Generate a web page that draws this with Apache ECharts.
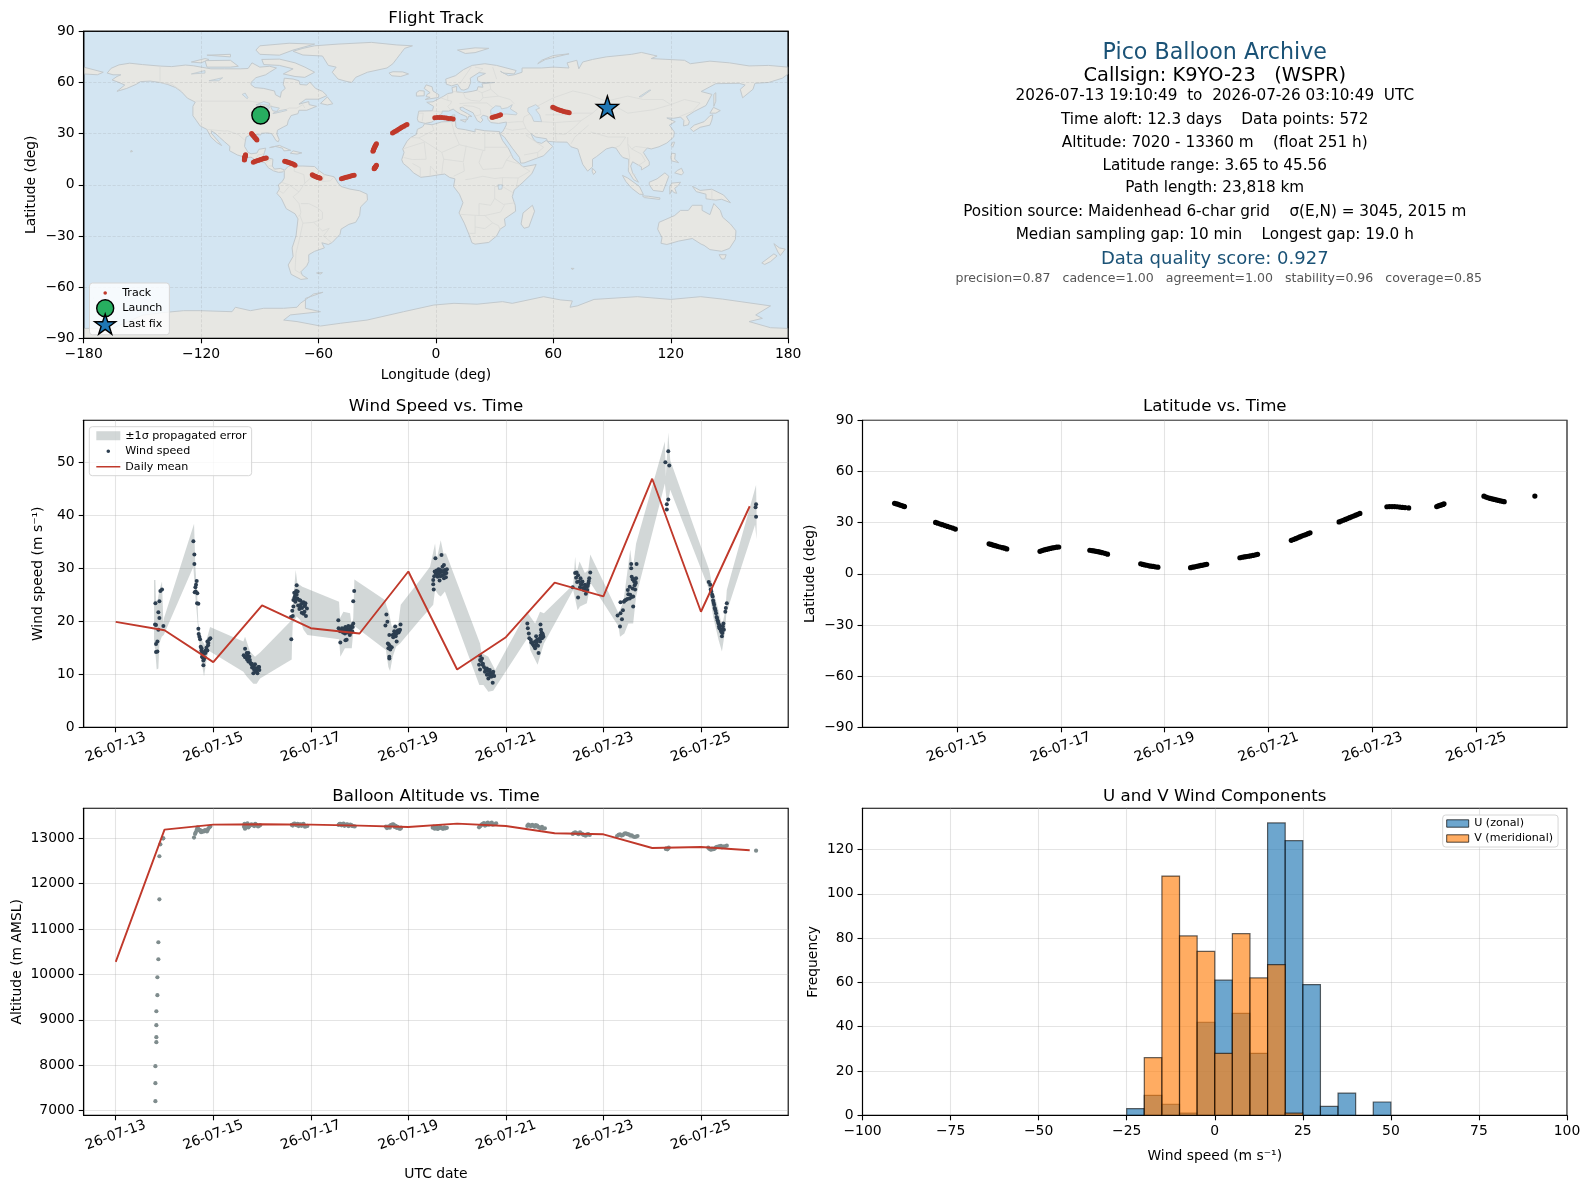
<!DOCTYPE html>
<html><head><meta charset="utf-8"><title>Pico Balloon Archive</title>
<script src="https://cdn.jsdelivr.net/npm/echarts@6/dist/echarts.min.js"></script>
<style>html,body{margin:0;padding:0;background:#fff}#main{width:1590px;height:1189px}</style></head>
<body><div id="main"></div>
<script>
// ---------- tick labels ----------
const dateTicks=[0,2,4,6,8,10,12];
const dateLabels=['26-07-13','26-07-15','26-07-17','26-07-19','26-07-21','26-07-23','26-07-25'];
const latDateTicks=[2,4,6,8,10,12];
const windTicks=[0,10,20,30,40,50];
const altTicks=[7000,8000,9000,10000,11000,12000,13000];
const countTicks=[0,20,40,60,80,100,120];
// ---------- text ----------
const infoLines=['Pico Balloon Archive','Callsign: K9YO-23   (WSPR)','2026-07-13 19:10:49  to  2026-07-26 03:10:49  UTC','Time aloft: 12.3 days    Data points: 572','Altitude: 7020 - 13360 m    (float 251 h)','Latitude range: 3.65 to 45.56','Path length: 23,818 km','Position source: Maidenhead 6-char grid    σ(E,N) = 3045, 2015 m','Median sampling gap: 10 min    Longest gap: 19.0 h','Data quality score: 0.927','precision=0.87   cadence=1.00   agreement=1.00   stability=0.96   coverage=0.85'];
// ---------- track (days after 07-13 00:00, latitude, longitude) ----------
const trackT=[.80,.83,.86,.89,.92,.95,.98,.99, 1.59,1.63,1.68,1.72,1.77,1.82,1.87,1.92,1.97, 2.62,2.66,2.70,2.74,2.78,2.83,2.88,2.92,2.96, 3.60,3.64,3.68,3.72,3.76,3.80,3.84,3.88,3.92,3.96, 4.56,4.6,4.64,4.68,4.72,4.76,4.8,4.85,4.9, 5.54,5.58,5.62,5.66,5.7,5.74,5.78,5.82,5.87, 6.5,6.54,6.58,6.62,6.66,6.7,6.74,6.78,6.81, 7.45,7.49,7.53,7.57,7.61,7.65,7.7,7.75,7.79, 8.44,8.48,8.52,8.56,8.6,8.64,8.68,8.72,8.76,8.8, 9.36,9.40,9.44,9.48,9.52,9.56,9.6,9.64,9.68,9.72,9.76, 10.28,10.33,10.38,10.43,10.48,10.53,10.58,10.63,10.7, 11.24,11.27,11.3,11.33,11.36,11.38, 12.15,12.19,12.23,12.27,12.31,12.35,12.39,12.43,12.47,12.51,12.54, 13.13];
const trackLat=[41.3,41.0,40.9,40.5,40.2,39.9,39.6,39.4, 30.1,29.7,29.2,28.8,28.3,27.8,27.3,26.8,26.2, 17.6,17.2,16.8,16.5,16.1,15.7,15.3,15.0,14.6, 13.2,13.6,14.0,14.3,14.6,14.9,15.2,15.4,15.6,15.7, 13.8,13.6,13.4,13.2,13.0,12.7,12.4,12.0,11.5, 5.9,5.5,5.2,5.0,4.7,4.5,4.3,4.1,3.9, 3.6,3.9,4.1,4.4,4.6,4.9,5.1,5.4,5.6, 9.4,9.7,9.9,10.1,10.3,10.5,10.8,11.1,11.4, 19.6,20.1,20.6,21.1,21.6,22.1,22.6,23.0,23.5,24.0, 30.4,30.9,31.4,31.9,32.4,32.9,33.4,33.9,34.4,34.9,35.4, 39.3,39.4,39.4,39.4,39.3,39.1,38.9,38.8,38.6, 39.4,39.8,40.1,40.4,40.7,41, 45.5,45.0,44.6,44.2,43.9,43.6,43.3,43.0,42.7,42.5,42.3, 45.56];
const trackLon=[-90.0,-89.9,-89.7,-89.5,-89.3,-89.1,-88.9,-88.7, -94.2,-93.9,-93.6,-93.3,-92.9,-92.6,-92.2,-91.8,-91.5, -97.3,-97.4,-97.5,-97.6,-97.7,-97.7,-97.8,-97.8,-97.9, -93.3,-92.6,-91.8,-91.0,-90.2,-89.5,-88.7,-88.0,-87.4,-86.7, -77.3,-76.7,-76.1,-75.5,-74.8,-74.1,-73.4,-72.7,-72.0, -63.2,-62.7,-62.2,-61.7,-61.2,-60.7,-60.2,-59.7,-59.2, -48.3,-47.5,-46.7,-45.9,-45.1,-44.3,-43.5,-42.6,-41.8, -31.6,-31.4,-31.3,-31.2,-31.1,-31.0,-30.8,-30.6,-30.4, -32.2,-32.0,-31.9,-31.7,-31.5,-31.3,-31.1,-30.9,-30.7,-30.4, -22.2,-21.4,-20.7,-20,-19.3,-18.6,-17.9,-17.2,-16.4,-15.6,-14.8, -0.6,0.6,1.8,3,4.2,5.3,6.4,7.6,8.8, 28.7,29.6,30.5,31.3,32.2,33, 59.7,60.5,61.4,62.2,63,63.8,64.6,65.4,66.4,67.3,68.1, 87.4];
const launchPoint=[-89.6,40.8];
const lastFixPoint=[87.6,45.6];
// ---------- wind speed points ----------
const windT=[.813,.806,.826,.874,.895,.895,.854,.826,.826,.854,.874,.915,.949,.977, 1.592,1.612,1.612,1.66,1.646,1.633,1.64,1.619,1.673,1.667,1.694,1.694,1.70,1.715,1.729,1.742,1.756,1.784,1.77,1.797,1.797,1.824,1.851,1.879,1.893,1.879,1.92,1.94,1.77,1.80,1.83,1.76,1.78,1.81,1.84,1.86,1.90, 2.652,2.624,2.686,2.72,2.652,2.693,2.74,2.72,2.76,2.795,2.856,2.836,2.877,2.925,2.945,2.822,2.905,2.70,2.78,2.86,2.90,2.67,2.71,2.75,2.79,2.82,2.85,2.88,2.92,2.94, 3.60,3.594,3.63,3.62,3.643,3.643,3.664,3.684,3.71,3.70,3.73,3.71,3.725,3.786,3.78,3.766,3.814,3.85,3.89,3.85,3.90,3.92,3.83,3.87,3.66,3.68,3.70,3.74,3.76,3.80,3.82,3.87,3.88, 4.564,4.57,4.605,4.60,4.64,4.68,4.71,4.70,4.71,4.735,4.77,4.77,4.80,4.82,4.85,4.87,4.87,4.89,4.66,4.74,4.79,4.84,4.62,4.65,4.67,4.72,4.75,4.78,4.81,4.83,4.86, 5.55,5.53,5.57,5.61,5.58,5.59,5.625,5.66,5.61,5.61,5.68,5.71,5.73,5.75,5.76,5.77,5.80,5.83,5.84,5.70,5.74,5.60,5.63,5.69,5.72,5.76,5.79,5.81, 6.555,6.68,6.51,6.52,6.54,6.58,6.62,6.65,6.70,6.73,6.75,6.79,6.60,6.64,6.73,6.77,6.51,6.70,6.56,6.67,6.76,6.53,6.57,6.61,6.63,6.66,6.69,6.72,6.74,6.78, 7.47,7.51,7.47,7.45,7.52,7.47,7.55,7.61,7.57,7.64,7.68,7.61,7.73,7.76,7.71,7.64,7.73,7.66,7.70,7.49,7.53,7.58,7.62,7.65,7.67,7.69,7.72,7.74, 8.44,8.45,8.47,8.48,8.51,8.54,8.57,8.60,8.67,8.64,8.62,8.70,8.71,8.72,8.75,8.77,8.74,8.60,8.66,8.73,8.52,8.55,8.58,8.61,8.63,8.69,8.71,8.76,8.72, 9.37,9.42,9.45,9.48,9.46,9.48,9.53,9.52,9.57,9.60,9.64,9.66,9.69,9.71,9.73,9.62,9.55,9.67,9.44,9.50,9.54,9.58,9.61,9.63,9.65,9.68,9.70, 10.34,10.29,10.38,10.35,10.40,10.35,10.44,10.49,10.54,10.61,10.61,10.50,10.54,10.65,10.58,10.63,10.67,10.57,10.57,10.68,10.60,10.66,10.42,10.46,10.51,10.55,10.58,10.60,10.64,10.66,10.62, 11.27,11.33,11.35,11.33,11.30,11.30, 12.16,12.19,12.21,12.24,12.25,12.27,12.29,12.31,12.33,12.36,12.38,12.41,12.43,12.46,12.47,12.50,12.51,12.53,12.34,12.39,12.44,12.20,12.23,12.26,12.28,12.30,12.32,12.35,12.37,12.40,12.42,12.44,12.45, 13.13,13.12,13.13];
const windV=[23.4,19.4,19.3,21.7,23.8,20.6,16.2,15.7,14.2,14.3,18.4,25.7,26.0,19.1, 35.1,32.6,30.8,27.6,26.9,26.4,25.6,25.5,25.3,23.4,23.3,18.6,17.6,17.1,16.6,15.2,14.5,14.0,13.3,12.6,11.7,13.2,14.5,14.5,15.5,16.2,16.6,16.8,14.1,13.9,14.4,14.9,13.2,12.9,14.0,15.0,15.9, 14.8,13.6,14.0,14.0,13.2,12.8,13.3,12.4,12.2,11.3,11.9,10.9,11.1,11.4,10.8,10.2,10.2,13.5,11.9,10.6,11.0,13.4,13.1,12.7,12.0,11.5,11.2,10.5,10.9,11.4, 16.6,20.8,21.0,22.0,22.8,24.0,24.5,23.7,26.8,25.7,25.6,25.0,24.3,23.9,22.8,22.3,21.6,23.6,23.4,21.4,21.0,22.4,23.5,21.8,25.4,24.9,24.2,23.0,24.0,23.2,22.5,22.9,23.0, 20.2,18.7,16.0,18.1,18.7,18.4,18.9,17.7,16.4,16.5,19.1,18.1,17.4,18.7,18.1,19.6,23.8,25.7,17.9,18.6,18.2,19.1,18.3,18.2,18.6,18.2,17.9,18.4,18.0,17.9,18.9, 21.3,19.2,19.9,17.4,15.8,14.9,15.3,15.1,13.3,13.0,17.4,18.1,19.0,17.6,16.2,18.1,17.9,18.4,19.4,17.5,17.2,15.6,14.7,17.0,17.4,17.8,18.3,18.1, 31.9,32.5,27.0,26.0,29.4,29.6,29.8,29.7,30.3,30.6,29.7,29.8,28.4,27.7,28.1,28.3,27.8,28.7,29.1,29.3,29.2,28.5,28.9,29.4,29.0,28.5,29.5,29.4,28.9,29.1, 13.5,13.0,12.7,11.8,11.8,10.9,11.4,11.1,10.5,10.8,10.3,9.9,10.2,9.7,9.6,9.2,8.4,9.9,10.1,12.5,12.0,11.0,10.6,10.0,10.8,9.6,9.9,10.5, 19.6,18.7,17.7,16.8,16.5,16.0,15.5,14.9,14.0,16.5,17.2,16.2,19.4,18.4,17.7,17.1,16.8,16.2,15.4,17.9,16.0,15.7,15.3,15.5,16.0,16.7,17.3,17.4,17.0, 26.4,29.1,29.2,28.7,27.4,24.5,28.1,26.4,27.5,25.9,25.2,26.5,27.2,28.1,29.2,26.9,27.0,25.9,28.2,27.5,27.0,26.3,26.0,26.6,25.8,26.7,27.6, 19.0,21.1,20.4,21.5,22.1,23.6,23.9,24.2,24.3,24.7,22.8,25.9,26.5,26.0,28.4,27.5,28.1,30.8,30.0,30.8,27.9,27.2,23.7,24.0,25.1,25.0,24.6,26.2,26.8,27.4,28.0, 50.0,52.1,49.4,43.0,42.1,41.1, 27.4,26.9,25.6,24.7,23.9,23.1,22.3,21.5,20.6,19.6,18.7,18.2,17.2,19.6,18.4,21.8,22.5,23.4,20.2,19.2,17.8,26.0,25.0,23.5,22.5,22.0,20.8,19.9,19.0,18.5,18.0,18.4,19.0, 42.1,41.5,39.7];
// ---------- propagated error band ----------
const bandUpperT=[.785,.813,.826,.854,.895,.949,.977,.99,1.606,1.633,1.667,1.694,1.763,1.831,1.879,1.934,2.617,2.652,2.754,2.856,2.959,3.595,3.63,3.656,3.69,3.725,3.827,4.579,4.60,4.668,4.805,4.84,4.87,4.893,5.52,5.556,5.605,5.66,5.748,5.796,5.844,6.24,6.445,6.548,6.58,6.664,6.72,6.773,7.47,7.50,7.64,7.78,8.43,8.60,8.70,8.78,9.38,9.42,9.45,9.51,9.62,9.69,9.73,10.31,10.41,10.55,10.60,10.67,11.26,11.28,11.33,11.37,12.17,12.25,12.36,12.43,12.50,12.53,13.13,13.14];
const bandUpperV=[27.8,27.8,24.0,23.7,25.9,27.5,19.6,20.6,38.4,30.3,25.6,19.6,16.5,15.5,17.1,18.9,16.2,17.1,14.3,13.3,14.1,20.1,21.8,25.9,29.7,27.2,26.5,23.7,20.6,21.8,21.5,19.0,20.6,27.9,24.0,22.8,21.5,19.0,19.0,19.6,23.1,27.8,30.3,34.7,31.6,35.3,32.8,32.8,15.8,14.0,13.3,10.8,21.8,19.6,21.8,21.5,26.9,32.2,29.1,31.3,29.1,29.7,32.6,21.5,23.7,33.5,29.7,34.7,53.9,47.3,55.6,50.4,29.7,25.9,22.1,19.0,22.1,25.9,45.7,41.0];
const bandLowerT=[.785,.813,.84,.874,.895,.943,.984,1.592,1.633,1.68,1.715,1.742,1.777,1.81,1.851,1.90,2.617,2.686,2.822,2.89,2.959,3.608,3.615,3.63,3.71,3.78,3.85,3.93,4.579,4.606,4.70,4.84,4.886,4.907,5.54,5.59,5.625,5.68,5.748,5.83,6.24,6.51,6.548,6.616,6.664,6.75,7.455,7.54,7.64,7.74,8.46,8.50,8.65,8.74,8.78,9.38,9.47,9.52,9.66,9.74,10.31,10.34,10.43,10.51,10.61,10.67,11.26,11.31,11.37,12.17,12.25,12.36,12.43,12.50,12.52,13.11,13.14];
const bandLowerV=[16.5,14.0,10.9,11.1,15.8,17.1,17.4,30.3,24.7,19.6,15.8,13.3,11.4,9.6,12.1,14.5,10.5,9.6,8.2,8.2,9.2,12.8,15.8,19.6,20.9,20.3,18.4,17.4,16.6,13.3,14.9,14.9,19.6,19.0,14.6,11.4,10.6,13.3,15.2,15.8,20.3,23.1,25.9,25.0,24.7,25.6,8.0,8.0,6.7,6.9,17.1,14.6,11.8,14.6,15.8,25.9,22.1,22.8,23.4,27.2,19.0,17.1,17.7,19.6,19.6,24.7,46.0,41.6,44.8,25.9,20.9,16.5,14.3,18.4,21.5,38.2,35.5];
// ---------- daily means ----------
const meanDays=[0,1,2,3,4,5,6,7,8,9,10,11,12,13];
const windMean=[19.9,18.3,12.3,23.0,18.7,17.7,29.4,10.9,17.0,27.3,24.7,46.9,21.8,41.7];
const altMean=[10276,13191,13301,13308,13301,13279,13250,13323,13272,13110,13088,12787,12809,12736];
// ---------- altitude points ----------
const altT=[.813,.813,.813,.833,.833,.833,.833,.854,.854,.874,.874,.895,.895,.915,.97,.975, 1.605,1.626,1.66,1.68,1.70,1.73,1.763,1.79,1.81,1.85,1.885,1.92,1.94,1.64,1.67,1.72,1.75,1.78,1.83,1.87,1.90, 2.63,2.65,2.64,2.68,2.72,2.76,2.80,2.84,2.88,2.92,2.96,2.66,2.70,2.74,2.78,2.82,2.86,2.90,2.94, 3.61,3.65,3.69,3.73,3.77,3.81,3.85,3.88,3.93,3.63,3.67,3.71,3.75,3.79,3.83,3.87,3.91, 4.57,4.61,4.65,4.69,4.73,4.77,4.81,4.85,4.90,4.59,4.63,4.67,4.71,4.75,4.79,4.83,4.87, 5.54,5.58,5.62,5.66,5.70,5.74,5.78,5.82,5.85,5.56,5.60,5.64,5.68,5.72,5.76,5.80,5.84, 6.50,6.54,6.58,6.62,6.66,6.70,6.74,6.79,6.52,6.56,6.60,6.64,6.68,6.72,6.76, 7.45,7.49,7.53,7.57,7.61,7.65,7.69,7.73,7.80,7.47,7.51,7.55,7.59,7.63,7.67,7.71,7.76, 8.44,8.49,8.54,8.59,8.64,8.69,8.74,8.80,8.46,8.51,8.56,8.61,8.66,8.71,8.76, 9.37,9.42,9.47,9.52,9.57,9.62,9.67,9.72,9.39,9.44,9.49,9.54,9.59,9.64,9.69, 10.28,10.34,10.40,10.46,10.52,10.58,10.64,10.70,10.31,10.37,10.43,10.49,10.55,10.61,10.67, 11.28,11.31,11.34,11.29,11.32, 12.15,12.19,12.23,12.27,12.31,12.36,12.41,12.46,12.53,12.17,12.21,12.25,12.29,12.33,12.38,12.43,12.49, 13.13];
const altV=[7207,7604,7978,8507,8617,8881,9189,9542,9938,10335,10709,11656,12604,12868,13000,13000, 13015,13095,13183,13242,13190,13183,13147,13150,13154,13169,13183,13242,13260,13130,13200,13170,13135,13160,13180,13150,13215, 13257,13213,13316,13308,13240,13286,13294,13270,13300,13260,13290,13230,13330,13270,13310,13285,13320,13280,13275, 13294,13316,13300,13316,13300,13275,13316,13257,13272,13280,13325,13290,13270,13310,13300,13280,13265, 13294,13316,13300,13275,13300,13270,13300,13272,13262,13320,13285,13325,13295,13310,13280,13290,13265, 13257,13242,13235,13294,13300,13272,13250,13213,13235,13225,13265,13290,13310,13250,13230,13225,13215, 13235,13210,13250,13220,13245,13215,13240,13230,13255,13225,13205,13240,13225,13210,13220, 13242,13286,13316,13280,13330,13300,13330,13300,13330,13265,13305,13335,13290,13345,13315,13345,13310, 13272,13286,13295,13257,13280,13235,13250,13220,13300,13270,13275,13290,13250,13225,13215, 13095,13132,13105,13132,13095,13066,13085,13073,13115,13120,13090,13110,13075,13060,13090, 13051,13088,13070,13110,13085,13066,13029,13051,13075,13060,13105,13090,13060,13040,13035, 12765,12758,12794,12780,12770, 12794,12758,12775,12765,12800,12816,12831,12815,12838,12770,12750,12760,12785,12810,12825,12800,12825, 12728];
// ---------- histogram ----------
const binStart=[-25,-20,-15,-10,-5,0,5,10,15,20,25,30,35,40,45];
const binEnd=[-20,-15,-10,-5,0,5,10,15,20,25,30,35,40,45,50];
const uCounts=[3,9,5,1,42,61,46,28,132,124,59,4,10,0,6];
const vCounts=[0,26,108,81,74,28,82,62,68,1,0,0,0,0,0];
// ---------- map outlines (longitude, latitude) ----------
const landPolys=[
[[-168,65.5],[-166,68.3],[-162,70.3],[-156.5,71.3],[-150,70.5],[-141,69.6],[-135,69.3],[-128,70.2],[-124,69.8],[-115,68],[-108,68],[-100,68],[-96,68.2],[-94,71.5],[-90,69],[-85,69.5],[-81.5,68.5],[-85,66],[-87,64.5],[-92,62.8],[-94.5,60],[-94.5,58.7],[-92.5,57],[-88,56.5],[-82.5,55],[-82,52.8],[-79.5,51.3],[-79,54.5],[-77,56.5],[-78,58.8],[-77.5,62.5],[-73,62],[-70,61],[-69.5,58.8],[-66,58.5],[-64.5,60.3],[-61.5,56.5],[-58,54.8],[-55.7,52.3],[-60,50.2],[-66.5,50.2],[-70,47.3],[-65,48.8],[-64.8,47],[-61,46],[-66,43.7],[-70,43.7],[-70.5,41.7],[-74,40.6],[-75.5,37.5],[-76,35],[-78,33.9],[-81,32],[-81.3,29.8],[-80.1,26.5],[-80.6,25.2],[-81.8,26],[-82.8,28],[-84,30],[-86,30.4],[-89.3,30.2],[-89.5,29.2],[-91.5,29.5],[-94,29.6],[-97,28],[-97.5,25],[-97.8,22.5],[-96,19],[-94.5,18.2],[-91.5,18.6],[-90.5,20.8],[-87,21.5],[-87.6,19],[-88.5,16],[-86,15.9],[-83.3,15],[-83.6,11],[-82.5,9.2],[-79.5,9.6],[-77.4,8.7],[-78.3,7.5],[-80.5,7.3],[-83,8.2],[-85.7,10],[-87.5,13],[-91.5,14],[-94.5,16.2],[-97,15.9],[-101.5,17.5],[-105.5,20],[-105.3,22.5],[-108,25.2],[-110.5,27.8],[-112.8,30.2],[-114.8,31.7],[-114.6,30],[-111.2,25.5],[-109.5,23],[-112,24.8],[-115,28],[-117.1,32.5],[-120.5,34.5],[-122.5,37.8],[-124.2,40.5],[-124.2,46],[-123,48.5],[-127,50.8],[-130,54.5],[-133,57],[-137,58.8],[-141,60],[-146,60.8],[-151,60.5],[-153,59],[-158,56.5],[-163,54.8],[-159,58.5],[-162,60],[-165.5,61.5],[-163,63.5],[-161,64.5],[-165,64.5]],
[[-73,78.3],[-68,76.1],[-58,75.5],[-55,70],[-51,69],[-53,66],[-50,62],[-46,60.7],[-43,60],[-41,63],[-35,66],[-25,68.5],[-22,71],[-20,74],[-18,77],[-16,80],[-12,81.5],[-20,82],[-33,83.5],[-50,82.5],[-62,81.5],[-68,80]],
[[-24,65.5],[-22,66.3],[-17,66.2],[-14,65],[-18,63.5],[-22.5,63.9]],
[[-5.5,50],[1.3,51.2],[1.5,52.8],[-1.5,55],[-2,57.5],[-5,58.6],[-6,56.5],[-3,54],[-4.5,53],[-5,51.7],[-3,51.3]],
[[-10,52],[-6,52.2],[-6,55],[-8.5,55.2],[-10,54]],
[[11,79],[20,80.3],[27,80],[20,77.5],[15,77]],
[[52,71],[56,73.5],[68,76.8],[60,75.8],[54,73]],
[[-5.5,36],[-9,37],[-9.5,38.7],[-8.8,43.2],[-1.8,43.4],[-1.2,46],[-4.7,48.4],[-1.5,48.7],[1.5,50.5],[4,52],[6,53.5],[8.6,54],[8.2,57],[10.6,57.7],[10.5,54.5],[14,54],[18.5,54.8],[21,55.5],[21.5,57.5],[24,57.2],[23.5,59.2],[30,60],[23,60],[21.3,61],[21.2,63],[25.3,65.3],[22,65.8],[17.5,62.5],[17.8,60],[16.5,56.5],[14.3,55.5],[12.8,55.8],[11,59],[8,58],[5.3,59],[5,62],[10,64],[14,67.5],[18.5,70],[25,71],[31,70],[41,67],[40,65],[34.5,65.5],[33,66.5],[37,64],[40,64.5],[44,66],[44,68.5],[54,68.5],[60,69],[68,68.5],[67,71.5],[72,73],[73,68],[75,72],[80,73.5],[87,75],[100,76.5],[105,77.6],[113,75.5],[110,74],[127,73],[130,71],[140,72.5],[150,71.5],[160,69.7],[170,70],[180,69],[180,65],[177,62.5],[170,60],[163,59.5],[162,56],[156.7,51],[155.5,56],[158,58.5],[155,59.5],[143,59.3],[135.5,54.7],[141,53],[138,46.5],[132,43],[128,40],[129.5,37],[129,35.2],[126.5,34.5],[126.7,37.7],[125,39.7],[121.5,39],[118,39.2],[122.3,37],[119.3,35],[121.8,31],[121.5,28],[118,24.5],[114,22.3],[110,21],[108,21.6],[106,19],[109,13.5],[109,11.5],[105,8.7],[105,10.5],[100.5,13.5],[99.5,11],[100.5,7],[103.5,1.5],[101,3],[98.3,8],[98.5,15],[95.5,16],[94,18],[92,21.5],[90,22],[87,21],[82,16.5],[80,15],[80,10.5],[77.5,8],[75,12],[73,19],[72.5,21],[69,22.3],[67,25],[61.5,25.1],[57,25.5],[56.5,27],[51,28],[48.5,30],[50,26.5],[51.5,25],[54,24.3],[56.3,26],[59.7,22.5],[55,17],[52,15.8],[45,12.8],[43.3,12.7],[42.7,16],[39,21.5],[35,28],[32.6,30],[34.2,31.3],[35.9,35],[36,36.8],[32,36],[28,36.5],[26.5,38.5],[26.5,40],[24,40.8],[23,39.5],[24,38],[22.8,36.5],[21.2,37.5],[19.5,41],[19,42.2],[15,44.5],[13.6,45.5],[12.3,45.3],[12.5,44],[16,41.8],[18.4,40],[16.8,40.3],[16,38],[15.7,40],[12.5,41.5],[10.3,43],[8.8,44.4],[6.5,43.2],[3.2,43.2],[3,41.7],[0,39.8],[-0.5,38.2],[-2,36.8]],
[[-180,69],[-170,66],[-173,64.5],[-180,65]],
[[-5.8,35.8],[-2,35.2],[3,36.9],[10,37.2],[10.2,34],[11,33],[15,32.3],[20,31],[20,32.7],[25,31.7],[32.5,31.2],[32.6,29.9],[34,26],[37.2,21],[39.5,15.5],[43.2,12],[44.5,10.5],[51.2,11.9],[49,6.5],[44,1],[40,-3],[39,-7],[40.5,-12],[40.7,-15.5],[35,-20],[35.5,-24],[32.8,-26],[31,-30],[27,-33.8],[20,-34.8],[18.4,-34],[17,-29.5],[14.5,-22.5],[11.8,-16.5],[13.8,-10.5],[12,-5.5],[9,-1],[9.7,3.5],[7,4.3],[4.5,6.3],[1,5.8],[-3,5],[-7.7,4.4],[-11.5,7],[-13.5,9.5],[-16.7,12.5],[-17.5,14.7],[-16.3,19],[-17,21],[-14.8,25.5],[-13,27.7],[-10,29.5],[-9.5,32.5],[-6.8,34]],
[[-77.3,8.6],[-75.5,10.8],[-72,12],[-71.5,11],[-68,11],[-62,10.7],[-60,8.5],[-57,6],[-52,4.7],[-50,1],[-48.5,-1],[-44,-2.5],[-39,-3.5],[-35.2,-5.5],[-35,-9],[-38.5,-13],[-39,-18],[-41,-22],[-44.5,-23.2],[-48.5,-26],[-49,-29],[-53,-33.8],[-55,-35],[-58.3,-34],[-57,-37],[-62,-39],[-65,-41],[-65,-45],[-66,-47.5],[-69,-51],[-68.3,-53],[-65.5,-55],[-69,-55.5],[-74,-52.5],[-75.5,-47],[-73,-42],[-73.5,-37],[-71.5,-30],[-70.5,-20],[-72,-17],[-76.5,-14],[-79,-8],[-81.3,-5],[-80,-2.5],[-80.5,0],[-78.5,2],[-77.5,4],[-77.5,7]],
[[130,33],[131.5,31.2],[135,33.7],[140,35],[141,38],[141.5,41],[140,40.5],[137,37],[132,35]],
[[140,42],[141.8,45.4],[145.3,43.5],[143,42]],
[[142,46],[143,49],[143,54],[142,53]],
[[120.2,23],[121,25],[122,25],[121,22]],
[[95.3,5.5],[98,4],[104,-1],[106,-5.7],[104,-5.5],[100,-2],[97,2]],
[[105.5,-6.5],[108.5,-6.7],[114.5,-7.7],[114.3,-8.6],[106.5,-7.5]],
[[109,1.5],[113,3.5],[117,7],[119,5],[117.7,1],[116,-4],[111,-3.3],[109,0]],
[[119.5,-5.5],[120.5,-3],[121.5,-4.5],[123,-5],[122,-2],[123.5,-0.8],[125,1.5],[120.5,1],[119.5,-1]],
[[131,-0.8],[135,-3.3],[141,-2.6],[147,-6],[150.5,-10.5],[146,-8.5],[143,-9],[138,-8.2],[138,-5.5],[133,-4]],
[[120.5,18.5],[122.3,18.3],[122,15],[124,13],[120.5,14],[120,16]],
[[122,7],[123.5,8.5],[125.5,9.7],[126.5,7],[125.5,5.8]],
[[80,9.7],[81.8,7.5],[80.5,6],[79.8,8]],
[[49.3,-12],[50.4,-15.5],[47.5,-24.7],[45,-25.5],[43.5,-23],[44.5,-16.5]],
[[114,-22],[122,-18],[125,-15],[129,-15],[131,-12],[136,-12],[136,-15],[140,-17.5],[142,-11],[145.3,-15],[146.5,-19],[150.5,-23],[153.3,-27],[153,-32],[150,-37.3],[146,-39],[140,-38],[137,-35.5],[135.5,-34.8],[131,-31.5],[124,-33],[118,-35],[115,-34.3],[115.5,-31],[113.3,-26]],
[[144.7,-41],[148.3,-41],[147.5,-43.5],[146,-43.5]],
[[172.7,-34.5],[175.5,-37],[178.5,-37.7],[176,-41.5],[174.8,-39.5]],
[[172.7,-40.5],[174.3,-41.7],[171,-45],[168,-46.7],[166.5,-45.8]],
[[-85,21.8],[-80,23.1],[-74.2,20.2],[-77.7,19.9],[-78.5,21.5],[-82,22.5]],
[[-74.4,18.5],[-73,19.9],[-68.5,18.7],[-71,18]],
[[-62,66],[-67,63],[-72,63.5],[-78,65],[-73,68],[-80,70],[-88,70.5],[-89,73.5],[-80,73.7],[-72,71.5],[-67,69]],
[[-117,69],[-105,69],[-101,69.5],[-105,73],[-118,72.8]],
[[-125,72],[-118,74],[-116,73.5],[-120,71.5]],
[[-90,76.5],[-80,76],[-73,79],[-62,82.5],[-75,83],[-90,81.5],[-92,79]],
[[-117,76],[-105,75],[-105,76.5]],
[[-59,47.7],[-55.5,46.8],[-52.7,47.5],[-55.5,51.5]],
[[12.5,38],[15.6,38.2],[15,36.7]],
[[8.2,40.8],[9.7,41],[9.5,39.2],[8.5,39]],
[[-61,-51.7],[-58,-51.5],[-59,-52.3]],
[[-156,19.2],[-155,19.6],[-155.8,20.2]],
[[69,-49],[70.5,-49],[70,-49.7]],
[[-180,-84.2],[-165,-84],[-155,-79],[-150,-76.5],[-140,-75],[-128.9,-73.8],[-120.4,-73.8],[-104.2,-74.4],[-102.5,-71.8],[-94.8,-73.8],[-88,-72.4],[-77.8,-72.4],[-71,-71.8],[-69.3,-69.5],[-62.5,-64],[-57.7,-63],[-66.7,-66.6],[-66.7,-72.4],[-59,-74.4],[-74.4,-76.3],[-77.8,-79.3],[-71,-80.2],[-59,-82.8],[-48.8,-81.2],[-35.2,-79.3],[-16.5,-74.4],[-1.1,-70.5],[9.2,-69.5],[21,-70],[34,-68.5],[39,-69.5],[55,-65.6],[63.7,-67.5],[69.7,-68.1],[68.5,-71.8],[72.2,-71],[80.8,-67.2],[102.9,-65.6],[120,-67.2],[135.3,-65.6],[146.3,-67],[171,-71],[163.4,-76.3],[166.8,-78.3],[160,-80.2],[171,-83.8],[180,-84.2],[180,-90],[-180,-90]]
];
const lakePolys=[
[[-92,46.8],[-88,48.8],[-85,47.8],[-85,46.6],[-88,46.9]],
[[-87.5,41.7],[-86.3,42],[-85,45.7],[-87,45.7],[-88,44]],
[[-84.5,46],[-80,45],[-81.5,43],[-83.5,43.5]],
[[-83.3,41.7],[-79,42.8],[-76.2,43.6],[-76.5,44.2],[-79.5,43.6],[-83,42.2]],
[[-125,65],[-118,67],[-118,65.5]],
[[-116,61],[-109,62.8],[-111,61]],
[[-99,53],[-96.5,50.5],[-96,51],[-97.5,53.8]],
[[47,45],[51,47],[53,45],[51,44],[53,41],[54,37],[50,37.2],[49,40],[47,43]],
[[28,41.5],[28,44],[30.5,46.3],[33,46],[33.5,44.5],[36.5,45.2],[39,47],[38,44.5],[41.5,42],[41,41],[36,41.5],[31,41.2]],
[[58.5,46],[61,46.5],[60,44],[58.5,44]],
[[103.8,51.6],[105,51.6],[109.8,55.5],[109,55.5]],
[[31.7,0],[34,0],[33.7,-2.5],[32,-2.7]]
];
const borderLines=[
[[-141,69.6],[-141,60]],[[-130,55],[-135,59],[-141,60]],[[-123,49],[-95,49],[-89,48],[-84,46.5],[-82.5,42],[-79,43],[-75,45],[-71,45],[-68,47],[-67,45]],
[[-117,32.5],[-108,31.5],[-106.5,31.7],[-101,29.5],[-97.5,26]],[[-92,14.5],[-91,17.5],[-89,17.8],[-88.3,18.5]],[[-88,13.8],[-88.7,15.7]],[[-87,13],[-84,15]],[[-85.7,11],[-83.7,11]],[[-83,8.2],[-82.7,9.5]],[[-77.4,8.6],[-77.9,7.2]],
[[-72,12],[-72.5,8],[-67.5,6],[-67,1],[-70,-4.2],[-73,-7],[-70,-11],[-69,-16],[-69.5,-18],[-70.4,-18.4]],[[-78.8,1.4],[-75,0],[-70,-4.2]],[[-80.3,-3.4],[-78,-5],[-75,-1]],[[-60,8.5],[-61,4.5],[-64,4],[-67,1]],[[-57,6],[-58,2],[-54,2.3],[-52,4.7]],[[-69.5,-18],[-68,-22.5],[-70,-33],[-71.5,-40],[-72,-50],[-69,-52]],[[-68,-22.5],[-62.5,-22],[-58,-20],[-58,-16],[-60.5,-13.5],[-65,-11],[-69,-11]],[[-62.5,-22],[-58,-27],[-54.5,-25.5],[-57.5,-30],[-53.4,-33.8]],
[[-8.7,27.5],[-1,32],[-2,35]],[[-13,27.7],[-8.7,27.5],[3,19],[12,23.5],[9.5,30],[8,36.9]],[[12,23.5],[25,20],[25,31.5]],[[25,22],[37,22]],[[-17,21],[-6,25],[-5,15],[-12,14.8],[-16.5,16]],[[3,19],[4,15],[14,13.5],[15.5,23]],[[24,20],[22,13],[24,9],[34,9.8],[36,14.5],[38.5,18]],[[14,13],[14.5,8],[9,5]],[[3,6.3],[3.5,12],[4,15]],[[-3,5],[-2.8,11],[1,6]],[[-8,4.5],[-8,10],[-12,12.5]],[[15,3],[18,3.5],[24,5],[30,3.7],[34,4.2],[42,4],[41,-1.7]],[[34,4.2],[34,-1],[39.5,-4.7]],[[30,-1],[30,-8],[28,-12],[22,-11],[22,-18],[11.8,-17.3]],[[34,-1],[30,-1]],[[30,-8],[34.5,-11.5],[40.5,-10.5]],[[22,-18],[25,-18],[33,-16],[35,-12]],[[20,-18],[20,-28.5],[17,-28.5]],[[25,-18],[29,-22.3],[32,-24],[32.9,-26.8]],[[20,-24.7],[25,-25.7],[29,-22.3]],[[42,4],[48,8],[43,11.5]],[[36,14.5],[43,12]],
[[-1.8,43.4],[3.2,42.5]],[[-9,42],[-6.5,42],[-7,37.2]],[[2.5,51],[6,49.5],[8,49],[7.5,47.5],[6,46],[7.5,43.8]],[[6,53.5],[6,51],[6,49.5]],[[8.6,54.8],[14,54]],[[14,54],[15,51],[18,49.5],[22.5,49],[24,51],[23.5,54],[21,55.3]],[[12,47.6],[17,48],[22.5,48]],[[14,46.5],[19,46],[22.5,44.5],[23,41.3],[21,40.5],[19.5,41]],[[22.5,48],[26,48],[29,45.3]],[[23.5,54],[28,56],[27.5,59.5]],[[24,51],[32,52],[38,50],[40,47.5]],[[28,56],[32,52]],[[31,62],[29,69]],[[12,59],[18,69]],[[22,66],[24,68],[20,69]],
[[47.8,41.5],[45,39.8],[44.5,37],[46,33],[48.5,30]],[[44.5,37],[42,37],[36.5,36.5]],[[46,33],[39,32],[35.5,33]],[[48,29.5],[46,29],[55,22],[52,19],[52,16]],[[45,17.5],[52,19]],[[61.5,25],[61,30],[61,36.5]],[[61,36.5],[67,37],[74,37.5]],[[53.8,37],[61,36.5]],[[61,30],[66,29.5],[71,34],[74,37.5]],[[69,24],[71,28],[75,32],[78,35]],[[79,31],[88,28],[97,28],[94,23],[92,22]],[[50,45],[60,51],[70,55],[78,53],[87,49]],[[56,41],[66,41],[71,42],[80,42]],[[87,49],[80,42],[74,37.5]],[[87,49],[98,42],[111,44],[120,47],[116,50],[106,50],[98,52],[87,49]],[[120,47],[127,50],[135,48],[131,43]],[[98,28],[98,24],[100,21],[102,22.5],[108,21.6]],[[100,21],[105,18],[107,14],[103,11]],[[98.5,10],[99,16],[98,24]],[[124.5,40],[131,43]],[[100,6.5],[102,6]],[[141,-2.6],[141,-9]]
];

// ---------- helpers and styles ----------
const FONT='"DejaVu Sans"';
const zip=(a,b)=>a.map((v,i)=>[v,b[i]]);
const GX=[83.7,862.5], GW=704.5, GH=307, GY=[31.3,420.3,808.3];
const C={ocean:'#d3e5f2',land:'#e7e7e3',coast:'#c2c9cd',border:'#d9dbd8',track:'#c0392b',launch:'#27ae60',star:'#1f77b4',wind:'#2c3e50',alt:'#7f8c8d',red:'#c0392b',grid:'rgba(176,176,176,.34)'};
const gridOf=(x,y,bg)=>({left:GX[x],top:GY[y],width:GW,height:GH,show:true,backgroundColor:bg||'#fff',borderColor:'#000',borderWidth:1.1});
const tickCommon={show:true,length:5,lineStyle:{color:'#000',width:1.1}};
const lineCommon={show:true,onZero:false,lineStyle:{color:'#000',width:1.1}};
const splitCommon={show:true,lineStyle:{color:C.grid,width:1.1,type:'solid'}};
const labelCommon={color:'#000',fontFamily:FONT,fontSize:13.9,margin:9,hideOverlap:false};
const nameCommon={color:'#000',fontFamily:FONT,fontSize:13.9};
const tickText=v=>String(v).replace('-','\u2212');
const mapSplit={show:true,lineStyle:{color:'rgba(130,130,130,.2)',width:.8,type:'dashed'}};
function dateAxis(gridIndex,min,max,ticks,name,gap){
  return {type:'value',gridIndex,min,max,name:name||'',nameLocation:'middle',nameGap:gap||30,nameTextStyle:nameCommon,
    axisLine:lineCommon,splitLine:splitCommon,
    axisTick:Object.assign({},tickCommon,{customValues:ticks}),
    axisLabel:Object.assign({},labelCommon,{customValues:ticks,rotate:20,align:'center',verticalAlign:'middle',margin:20,formatter:v=>dateLabels[dateTicks.indexOf(v)]})};
}
function numAxis(gridIndex,min,max,opt,name,gap,custom){
  const o={type:'value',gridIndex,min,max,name,nameLocation:'middle',nameGap:gap,nameTextStyle:nameCommon,axisLine:lineCommon,splitLine:splitCommon,axisTick:Object.assign({},tickCommon),axisLabel:Object.assign({},labelCommon,{showMinLabel:true,showMaxLabel:true,formatter:tickText})};
  if(opt) o.interval=opt;
  if(custom){o.axisTick.customValues=custom;o.axisLabel.customValues=custom;}
  return o;
}
const polyItem=(pts,api,style)=>({type:'polygon',shape:{points:pts.map(p=>api.coord(p))},style});
const ICON={
 dotSmall:'path://M0,0L.01,0ZM24,20L24.01,20ZM10.2,10a1.8,1.8 0 1,0 3.6,0a1.8,1.8 0 1,0 -3.6,0Z',
 circle:'path://M0,0L.01,0ZM24,20L24.01,20ZM3.5,10a8.5,8.5 0 1,0 17,0a8.5,8.5 0 1,0 -17,0Z',
 star:'path://M0,0L.01,0ZM24,20L24.01,20ZM12,-.5L14.6,7.3L22.8,7.3L16.2,12.2L18.7,20L12,15.2L5.3,20L7.8,12.2L1.2,7.3L9.4,7.3Z',
 band:'path://M0,0L.01,0ZM24,12L24.01,12ZM0,1.5L24,1.5L24,10.5L0,10.5Z',
 dot:'path://M0,0L.01,0ZM24,12L24.01,12ZM10.2,6a1.8,1.8 0 1,0 3.6,0a1.8,1.8 0 1,0 -3.6,0Z',
 line:'path://M0,0L.01,0ZM24,12L24.01,12ZM0,5.2L24,5.2L24,6.8L0,6.8Z',
 patch:'path://M0,0L.01,0ZM23,9L23.01,9ZM.5,.8L22.5,.8L22.5,8.2L.5,8.2Z'
};
const legendBox={orient:'vertical',backgroundColor:'rgba(255,255,255,.8)',borderColor:'#d6d6d6',borderWidth:1,borderRadius:3,itemStyle:{borderWidth:0},selectedMode:false,textStyle:{color:'#000',fontFamily:FONT}};

const titles=[['Flight Track',GX[0]+GW/2,20.5],['Wind Speed vs. Time',GX[0]+GW/2,408.6],['Latitude vs. Time',GX[1]+GW/2,408.6],['Balloon Altitude vs. Time',GX[0]+GW/2,798],['U and V Wind Components',GX[1]+GW/2,798]];
const infoStyle=[[53,22.2,'#1a5276',0],[75.6,19.4,'#000',0],[96.3,15.25,'#000',0],[119.6,15.25,'#000',0],[143,15.25,'#000',0],[165.6,15.25,'#000',0],[188.3,15.25,'#000',0],[211.6,15.25,'#000',0],[234.6,15.25,'#000',0],[259,18,'#1a5276',0],[279,12.55,'#555',4]];

const histSeries=(name,counts,color,z)=>({name,type:'custom',xAxisIndex:4,yAxisIndex:4,z,
  data:binStart.map((s,i)=>[s,binEnd[i],counts[i]]).filter(d=>d[2]>0),encode:{x:[0,1],y:2},
  itemStyle:{color},
  renderItem:(p,api)=>{const a=api.coord([api.value(0),0]),b=api.coord([api.value(1),api.value(2)]);
    return {type:'rect',shape:{x:a[0],y:b[1],width:b[0]-a[0],height:a[1]-b[1]},style:{fill:color,stroke:'rgba(0,0,0,.6)',lineWidth:1.2}};}
});

const option={
 animation:false,backgroundColor:'#fff',
 title:titles.map(t=>({text:t[0],left:t[1],top:t[2]-10,textAlign:'center',padding:0,textStyle:{fontFamily:FONT,fontWeight:'normal',fontSize:16.67,color:'#000'}})),
 graphic:{elements:infoLines.map((s,i)=>({type:'text',x:GX[1]+GW/2+infoStyle[i][3],y:infoStyle[i][0],z:10,style:{text:s,fontFamily:FONT,fontSize:infoStyle[i][1],fill:infoStyle[i][2],align:'center',verticalAlign:'middle'}}))},
 grid:[gridOf(0,0,C.ocean),gridOf(0,1),gridOf(1,1),gridOf(0,2),gridOf(1,2)],
 xAxis:[
  Object.assign(numAxis(0,-180,180,60,'Longitude (deg)',30),{z:1.5,splitLine:mapSplit}),
  dateAxis(1,-0.657,13.789,dateTicks),
  dateAxis(2,0.182,13.749,latDateTicks),
  dateAxis(3,-0.657,13.789,dateTicks,'UTC date',52),
  numAxis(4,-100,100,25,'Wind speed (m s⁻¹)',34)
 ],
 yAxis:[
  Object.assign(numAxis(0,-90,90,30,'Latitude (deg)',45),{z:1.5,splitLine:mapSplit}),
  numAxis(1,0,57.92,null,'Wind speed (m s⁻¹)',38,windTicks),
  numAxis(2,-90,90,30,'Latitude (deg)',45),
  numAxis(3,6896,13661,null,'Altitude (m AMSL)',59,altTicks),
  numAxis(4,0,138.6,null,'Frequency',42,countTicks)
 ],
 legend:[
  Object.assign({},legendBox,{left:89.5,top:283,padding:[0,7,0,3],itemWidth:24,itemHeight:20,itemGap:-5.5,itemTextGap:9,textStyle:{color:'#000',fontFamily:FONT,fontSize:11.1},
    data:[{name:'Track',icon:ICON.dotSmall,itemStyle:{color:C.track}},{name:'Launch',icon:ICON.circle,itemStyle:{color:C.launch,borderColor:'#000',borderWidth:1.4}},{name:'Last fix',icon:ICON.star,itemStyle:{color:C.star,borderColor:'#000',borderWidth:1.4}}]}),
  Object.assign({},legendBox,{left:89.3,top:426.7,padding:[3,5,3,7],itemWidth:24,itemHeight:12,itemGap:3.5,itemTextGap:11,textStyle:{color:'#000',fontFamily:FONT,fontSize:11.1},
    data:[{name:'±1σ propagated error',icon:ICON.band,itemStyle:{color:'rgba(127,140,141,.35)'}},{name:'Wind speed',icon:ICON.dot,itemStyle:{color:C.wind}},{name:'Daily mean',icon:ICON.line,itemStyle:{color:C.red}}]}),
  Object.assign({},legendBox,{left:1442.7,top:815,padding:[3,5,3,3],itemWidth:23,itemHeight:9,itemGap:4,itemTextGap:11,textStyle:{color:'#000',fontFamily:FONT,fontSize:11.1},
    data:[{name:'U (zonal)',icon:ICON.patch,itemStyle:{color:'rgba(31,119,180,.65)',borderColor:'rgba(0,0,0,.7)',borderWidth:1}},{name:'V (meridional)',icon:ICON.patch,itemStyle:{color:'rgba(255,127,14,.65)',borderColor:'rgba(0,0,0,.7)',borderWidth:1}}]})
 ],
 series:[
  {name:'land',type:'custom',xAxisIndex:0,yAxisIndex:0,z:1,silent:true,clip:true,data:landPolys.map((p,i)=>[i,0]),
   renderItem:(p,api)=>polyItem(landPolys[p.dataIndex],api,{fill:C.land,stroke:C.coast,lineWidth:1})},
  {name:'borders',type:'custom',xAxisIndex:0,yAxisIndex:0,z:1.1,silent:true,clip:true,data:borderLines.map((p,i)=>[i,0]),
   renderItem:(p,api)=>({type:'polyline',shape:{points:borderLines[p.dataIndex].map(q=>api.coord(q))},style:{fill:null,stroke:C.border,lineWidth:.8}})},
  {name:'lakes',type:'custom',xAxisIndex:0,yAxisIndex:0,z:1.2,silent:true,clip:true,data:lakePolys.map((p,i)=>[i,0]),
   renderItem:(p,api)=>polyItem(lakePolys[p.dataIndex],api,{fill:C.ocean,stroke:C.coast,lineWidth:.8})},
  {name:'Track',type:'scatter',xAxisIndex:0,yAxisIndex:0,z:3,symbolSize:5,itemStyle:{color:C.track,opacity:1},data:zip(trackLon,trackLat)},
  {name:'Launch',type:'scatter',xAxisIndex:0,yAxisIndex:0,z:4,symbolSize:17.5,itemStyle:{color:C.launch,borderColor:'#000',borderWidth:1.4,opacity:1},data:[launchPoint]},
  {name:'Last fix',type:'scatter',xAxisIndex:0,yAxisIndex:0,z:4,symbol:'path://M12,0L14.8,8.2L23.4,8.2L16.5,13.4L19.1,21.6L12,16.6L4.9,21.6L7.5,13.4L.6,8.2L9.2,8.2Z',symbolSize:22,itemStyle:{color:C.star,borderColor:'#000',borderWidth:1.4,opacity:1},data:[lastFixPoint]},
  {name:'frame',type:'custom',xAxisIndex:0,yAxisIndex:0,z:3.5,silent:true,clip:false,data:[[0,0]],
   renderItem:(p,api)=>{const a=api.coord([-180,90]),b=api.coord([180,-90]);return {type:'rect',shape:{x:a[0],y:a[1],width:b[0]-a[0],height:b[1]-a[1]},style:{fill:null,stroke:'#000',lineWidth:1.1}};}},
  {name:'±1σ propagated error',type:'custom',xAxisIndex:1,yAxisIndex:1,z:1,silent:true,data:[[0,0]],itemStyle:{color:'rgba(127,140,141,.35)'},
   renderItem:(p,api)=>{const up=zip(bandUpperT,bandUpperV),lo=zip(bandLowerT,bandLowerV).reverse();
     return polyItem(up.concat(lo),api,{fill:'rgba(127,140,141,.35)'});}},
  {name:'Wind speed',type:'scatter',xAxisIndex:1,yAxisIndex:1,z:3,symbolSize:4,itemStyle:{color:C.wind,opacity:1},data:zip(windT,windV)},
  {name:'Daily mean',type:'line',xAxisIndex:1,yAxisIndex:1,z:4,symbol:'none',itemStyle:{color:C.red},lineStyle:{color:C.red,width:1.9},data:zip(meanDays,windMean)},
  {name:'Latitude',type:'scatter',xAxisIndex:2,yAxisIndex:2,z:3,symbolSize:5.2,itemStyle:{color:'#000',opacity:1},data:zip(trackT,trackLat)},
  {name:'Altitude',type:'scatter',xAxisIndex:3,yAxisIndex:3,z:3,symbolSize:4.2,itemStyle:{color:C.alt,opacity:1},data:zip(altT,altV)},
  {name:'Altitude daily mean',type:'line',xAxisIndex:3,yAxisIndex:3,z:4,symbol:'none',itemStyle:{color:C.red},lineStyle:{color:C.red,width:1.9},data:zip(meanDays,altMean)},
  histSeries('U (zonal)',uCounts,'rgba(31,119,180,.65)',3),
  histSeries('V (meridional)',vCounts,'rgba(255,127,14,.65)',4)
 ]
};
const chart=echarts.init(document.getElementById('main'),null,{renderer:'canvas',width:1590,height:1189});
chart.setOption(option);
</script></body></html>
